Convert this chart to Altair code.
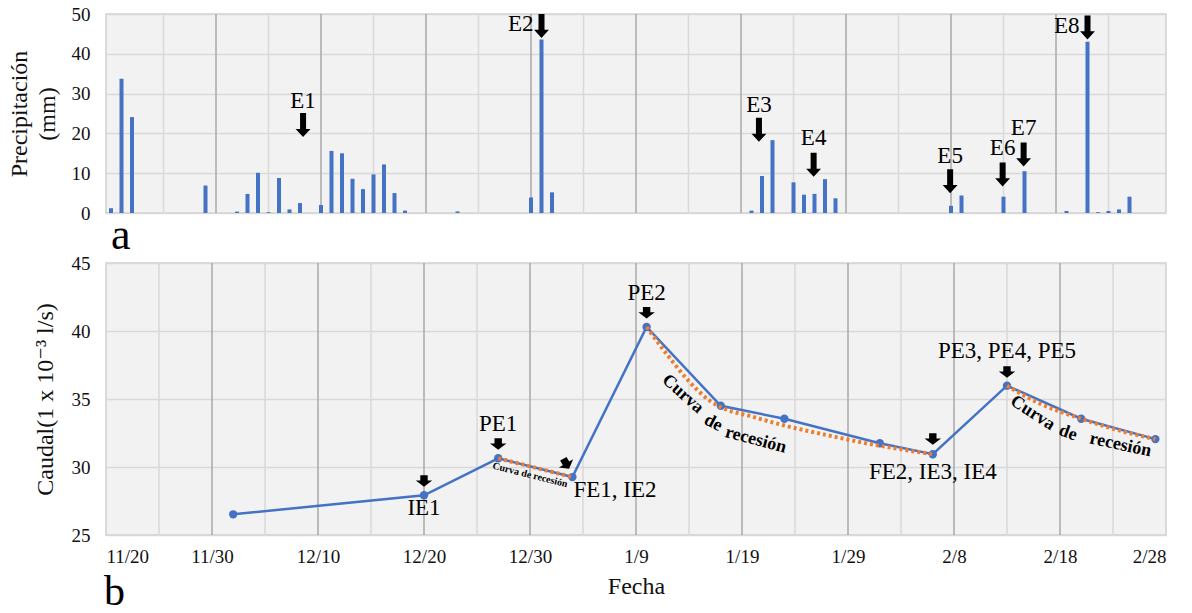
import altair as alt
import pandas as pd

FUENTE = "Times New Roman, Liberation Serif, DejaVu Serif, serif"
AZUL = "#4472C4"
NARANJA = "#ED7D31"

# ---------------- precipitación diaria (mm) ----------------
prec_fechas = [
    "2018-11-20", "2018-11-21", "2018-11-22", "2018-11-29",
    "2018-12-02", "2018-12-03", "2018-12-04", "2018-12-05", "2018-12-06", "2018-12-07", "2018-12-08",
    "2018-12-10", "2018-12-11", "2018-12-12", "2018-12-13", "2018-12-14", "2018-12-15", "2018-12-16",
    "2018-12-17", "2018-12-18", "2018-12-23", "2018-12-30", "2018-12-31", "2019-01-01",
    "2019-01-20", "2019-01-21", "2019-01-22", "2019-01-24", "2019-01-25", "2019-01-26", "2019-01-27",
    "2019-01-28", "2019-02-08", "2019-02-09", "2019-02-13", "2019-02-15", "2019-02-19", "2019-02-21",
    "2019-02-22", "2019-02-23", "2019-02-24", "2019-02-25",
]
prec_mm = [
    1.2, 33.7, 24.1, 6.9,
    0.35, 4.8, 10.1, 0.2, 8.8, 0.9, 2.5,
    2.0, 15.6, 15.0, 8.6, 6.0, 9.7, 12.2,
    5.0, 0.6, 0.4, 3.9, 43.6, 5.2,
    0.6, 9.3, 18.3, 7.7, 4.6, 4.8, 8.5,
    3.7, 1.8, 4.4, 4.1, 10.5, 0.5, 43.0,
    0.2, 0.5, 0.9, 4.1,
]

# eventos de lluvia: posición de la flecha y de su rótulo
ev_txt = ["E1", "E3", "E4", "E5", "E6", "E7"]
ev_fechas = ["2018-12-08T07:00:00Z", "2019-01-20T17:00:00Z", "2019-01-25T22:00:00Z",
             "2019-02-07T22:00:00Z", "2019-02-12T22:00:00Z", "2019-02-14T22:00:00Z"]
ev_txt_mm = [28.1, 27.1, 18.8, 14.3, 16.3, 21.4]
ev_flecha_mm = [22.1, 20.9, 12.1, 8.0, 9.7, 14.7]
ev2_txt = ["E2", "E8"]
ev2_fechas = ["2018-12-31", "2019-02-21"]
ev2_mm = [47.4, 47.0]
ev2_flecha_mm = [47.0, 46.6]

# ---------------- caudal (1 x 10^-3 l/s) ----------------
caudal_fechas = ["2018-12-02", "2018-12-20", "2018-12-27", "2019-01-03", "2019-01-10", "2019-01-17",
                 "2019-01-23", "2019-02-01", "2019-02-06", "2019-02-13", "2019-02-20", "2019-02-27"]
caudal_vals = [26.52, 27.92, 30.64, 29.26, 40.3, 34.5, 33.55, 31.75, 30.94, 35.98, 33.55, 32.05]

# curvas de recesión
rec1_fechas = ["2018-12-27", "2019-01-03"]
rec1_vals = [30.64, 29.26]
rec2_fechas = ["2019-01-10", "2019-01-12", "2019-01-14", "2019-01-16", "2019-01-17", "2019-01-20",
               "2019-01-23", "2019-01-27", "2019-01-31", "2019-02-03", "2019-02-06"]
rec2_vals = [40.3, 38.2, 36.3, 34.85, 34.4, 33.7, 33.05, 32.35, 31.7, 31.3, 30.94]
rec3_fechas = ["2019-02-13", "2019-02-16", "2019-02-20", "2019-02-24", "2019-02-27"]
rec3_vals = [35.98, 34.7, 33.55, 32.6, 32.05]

# rótulos de inicio / pico / fin de evento
pt_txt = ["IE1", "PE1", "PE2", "FE2, IE3, IE4", "PE3, PE4, PE5"]
pt_fechas = ["2018-12-20", "2018-12-27", "2019-01-10", "2019-02-06", "2019-02-13"]
pt_vals = [27.0, 33.16, 42.8, 29.63, 38.53]
pt2_txt = ["FE1, IE2"]
pt2_fechas = ["2019-01-03"]
pt2_vals = [28.3]

pt_flecha_fechas = ["2018-12-20", "2018-12-27", "2019-01-02T10:00:00Z", "2019-01-10", "2019-02-06", "2019-02-13"]
pt_flecha_vals = [28.97, 31.69, 30.24, 41.35, 32.06, 36.99]
pt_flecha_giro = [0, 0, 330, 0, 0, 0]

curva_txt = ["Curva de recesión", "Curva", "de", "recesión", "Curva", "de", "recesión"]
curva_fechas = ["2018-12-30", "2019-01-13T10:00:00Z", "2019-01-16T07:00:00Z", "2019-01-20T07:00:00Z",
                "2019-02-15T10:00:00Z", "2019-02-18T18:00:00Z", "2019-02-23T17:00:00Z"]
curva_vals = [29.41, 35.37, 33.24, 31.99, 33.97, 32.5, 31.62]
curva_giro = [14, 42, 28, 15, 33, 20, 12]
curva_tam = [10, 18, 18, 18, 18, 18, 18]

# rejilla vertical y marcas del eje de fechas
grid_mayor = ["2018-11-30", "2018-12-10", "2018-12-20", "2018-12-30", "2019-01-09",
              "2019-01-19", "2019-01-29", "2019-02-08", "2019-02-18"]
grid_menor = ["2018-11-25", "2018-12-05", "2018-12-15", "2018-12-25", "2019-01-04",
              "2019-01-14", "2019-01-24", "2019-02-03", "2019-02-13", "2019-02-23"]
ticks_fecha = ["2018-11-20"] + grid_mayor + ["2019-02-28"]


def dt(s):
    y, m, d = (int(p) for p in s.split("-"))
    return alt.DateTime(year=y, month=m, date=d, utc=True)


x_scale = alt.Scale(type="utc", domain=[dt("2018-11-20"), dt("2019-02-28")])

ANCHO = 1060
ALTO_A = 199
ALTO_B = 272

# ================= panel a: precipitación =================
y_a = alt.Y(
    "valor:Q",
    scale=alt.Scale(domain=[0, 50]),
    axis=alt.Axis(values=[0, 10, 20, 30, 40, 50], title=["Precipitación", "(mm)"],
                  titleLineHeight=28, titlePadding=12),
)
x_a = alt.X("fecha:T", scale=x_scale, axis=None)

g_menor = pd.DataFrame({"fecha": grid_menor})
g_mayor = pd.DataFrame({"fecha": grid_mayor})

reglas_menor = alt.Chart(g_menor).mark_rule(color="#d9d9d9", strokeWidth=1.5)
reglas_mayor = alt.Chart(g_mayor).mark_rule(color="#a8a8a8", strokeWidth=1.5)

df_prec = pd.DataFrame({"fecha": prec_fechas, "valor": prec_mm})
barras = alt.Chart(df_prec).mark_bar(color=AZUL, width=4, clip=True).encode(x=x_a, y=y_a)

FLECHA_E = "M-0.25,-1L0.25,-1L0.25,0.32L0.62,0.32L0,1L-0.62,0.32L-0.25,0.32Z"
FLECHA_P = "M-0.45,-0.7L0.45,-0.7L0.45,-0.05L1,-0.05L0,0.7L-1,-0.05L-0.45,-0.05Z"

df_ev_fl = pd.DataFrame({"fecha": ev_fechas + ev2_fechas, "valor": ev_flecha_mm + ev2_flecha_mm})
flechas_a = alt.Chart(df_ev_fl).mark_point(
    shape=FLECHA_E, size=576, filled=True, color="black", opacity=1, strokeWidth=0
).encode(x=x_a, y=y_a)

df_ev_txt = pd.DataFrame({"fecha": ev_fechas, "valor": ev_txt_mm, "txt": ev_txt})
rot_a = alt.Chart(df_ev_txt).mark_text(font=FUENTE, fontSize=23, color="black", baseline="middle").encode(
    x=x_a, y=y_a, text="txt:N")
df_ev2_txt = pd.DataFrame({"fecha": ev2_fechas, "valor": ev2_mm, "txt": ev2_txt})
rot_a2 = alt.Chart(df_ev2_txt).mark_text(font=FUENTE, fontSize=23, color="black", baseline="middle",
                                         align="right", dx=-8).encode(x=x_a, y=y_a, text="txt:N")

df_letra_a = pd.DataFrame({"fecha": ["2018-11-20"], "valor": [0], "txt": ["a"]})
letra_a = alt.Chart(df_letra_a).mark_text(font=FUENTE, fontSize=44, color="black", align="left",
                                          baseline="alphabetic", dx=0, dy=36).encode(x=x_a, y=y_a, text="txt:N")

panel_a = alt.layer(
    reglas_menor.encode(x=x_a), reglas_mayor.encode(x=x_a), barras, flechas_a, rot_a, rot_a2, letra_a
).properties(width=ANCHO, height=ALTO_A)

# ================= panel b: caudal =================
y_b = alt.Y(
    "valor:Q",
    scale=alt.Scale(domain=[25, 45]),
    axis=alt.Axis(values=[25, 30, 35, 40, 45], title="Caudal(1 x 10⁻³ l/s)", titlePadding=14),
)
x_b = alt.X(
    "fecha:T",
    scale=x_scale,
    axis=alt.Axis(values=[dt(s) for s in ticks_fecha], format="%-m/%-d", title="Fecha",
                  grid=False, ticks=False, domain=False, labelPadding=12, titlePadding=8),
)

df_caudal = pd.DataFrame({"fecha": caudal_fechas, "valor": caudal_vals})
linea = alt.Chart(df_caudal).mark_line(color=AZUL, strokeWidth=2.5).encode(x=x_b, y=y_b)
puntos = alt.Chart(df_caudal).mark_circle(color=AZUL, size=70, opacity=1).encode(x=x_b, y=y_b)

df_rec = pd.concat([
    pd.DataFrame({"fecha": rec1_fechas, "valor": rec1_vals, "tramo": 1}),
    pd.DataFrame({"fecha": rec2_fechas, "valor": rec2_vals, "tramo": 2}),
    pd.DataFrame({"fecha": rec3_fechas, "valor": rec3_vals, "tramo": 3}),
])
recesion = alt.Chart(df_rec).mark_line(
    color=NARANJA, strokeWidth=4, strokeDash=[3, 3], interpolate="monotone"
).encode(x=x_b, y=y_b, detail="tramo:N")

df_fl_b = pd.DataFrame({"fecha": pt_flecha_fechas, "valor": pt_flecha_vals, "giro": pt_flecha_giro})
flechas_b = alt.Chart(df_fl_b).mark_point(
    shape=FLECHA_P, size=270, filled=True, color="black", opacity=1, strokeWidth=0
).encode(x=x_b, y=y_b, angle=alt.Angle("giro:Q", scale=None))

df_pt = pd.DataFrame({"fecha": pt_fechas, "valor": pt_vals, "txt": pt_txt})
rot_b = alt.Chart(df_pt).mark_text(font=FUENTE, fontSize=23, color="black", baseline="middle").encode(
    x=x_b, y=y_b, text="txt:N")
df_pt2 = pd.DataFrame({"fecha": pt2_fechas, "valor": pt2_vals, "txt": pt2_txt})
rot_b2 = alt.Chart(df_pt2).mark_text(font=FUENTE, fontSize=23, color="black", baseline="middle",
                                     align="left", dx=1).encode(x=x_b, y=y_b, text="txt:N")

df_curva = pd.DataFrame({"fecha": curva_fechas, "valor": curva_vals, "txt": curva_txt,
                         "giro": curva_giro, "tam": curva_tam})
rot_curva = alt.Chart(df_curva).mark_text(font=FUENTE, fontWeight="bold", color="black",
                                          baseline="middle").encode(
    x=x_b, y=y_b, text="txt:N", angle=alt.Angle("giro:Q", scale=None), size=alt.Size("tam:Q", scale=None))

df_letra_b = pd.DataFrame({"fecha": ["2018-11-20"], "valor": [25], "txt": ["b"]})
letra_b = alt.Chart(df_letra_b).mark_text(font=FUENTE, fontSize=42, color="black", align="left",
                                          baseline="alphabetic", dx=-2, dy=70).encode(x=x_b, y=y_b, text="txt:N")

panel_b = alt.layer(
    reglas_menor.encode(x=x_b), reglas_mayor.encode(x=x_b), linea, puntos, recesion,
    flechas_b, rot_b, rot_b2, rot_curva, letra_b
).properties(width=ANCHO, height=ALTO_B)

chart = alt.vconcat(panel_a, panel_b, spacing=50, bounds="flush").properties(
    padding={"left": 6, "top": 4, "right": 10, "bottom": 0}
).configure_view(
    fill="#f2f2f2", stroke="#d0d0d0", strokeWidth=1.5
).configure_axis(
    labelFont=FUENTE, labelFontSize=19, labelColor="#111111",
    titleFont=FUENTE, titleFontSize=24, titleFontWeight="normal", titleColor="#111111",
    domain=False, ticks=False, grid=True, gridColor="#d9d9d9", gridWidth=1.5, labelPadding=16,
).configure_axisX(grid=False)

chart.save("out.html", embed_options={"renderer": "svg", "actions": False})
